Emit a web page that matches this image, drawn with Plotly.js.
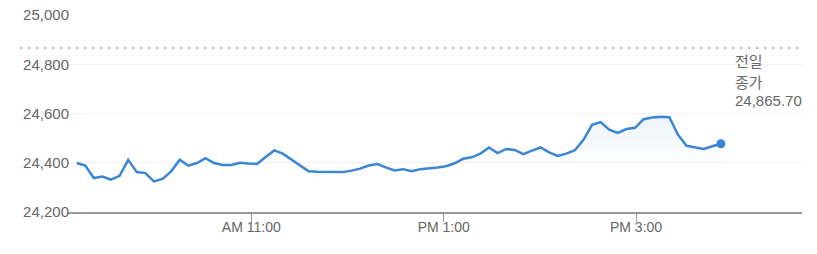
<!DOCTYPE html>
<html>
<head>
<meta charset="utf-8">
<script src="https://cdn.plot.ly/plotly-3.0.1.min.js"></script>
<style>html,body{margin:0;padding:0;background:#fff;}#chart{width:817px;height:254px;}</style>
</head>
<body>
<div id="chart"></div>
<script>
// Intraday index values (sample order)
const values = [
  24399, 24389, 24338, 24344, 24331, 24347, 24412, 24362, 24358, 24324,
  24334, 24365, 24412, 24388, 24399, 24419, 24399, 24391, 24391, 24400,
  24397, 24395, 24423, 24450, 24437, 24413, 24392, 24365, 24363, 24363,
  24361, 24362, 24368, 24376, 24389, 24395, 24381, 24369, 24374, 24366,
  24374, 24376, 24381, 24386, 24398, 24416, 24422, 24437, 24462, 24439,
  24456, 24452, 24435, 24449, 24462, 24442, 24428, 24437, 24451, 24493,
  24554, 24565, 24534, 24521, 24537, 24542, 24577, 24584, 24587, 24585,
  24514, 24469, 24462, 24456, 24467, 24477
];
const samples = values.map((v, i) => i);
const prevClose = 24865.70;
const prevCloseLabel = ['전일', '종가', '24,865.70'];
const xTickLabels = ['AM 11:00', 'PM 1:00', 'PM 3:00'];
const xTickPos = [20.33, 42.73, 65.12];
const yTickVals = [24200, 24400, 24600, 24800, 25000];
const yTickText = ['24,200', '24,400', '24,600', '24,800', '25,000'];

const blue = '#3a86d4';
const lastIdx = values.length - 1;

const traces = [
  {
    x: samples, y: values, type: 'scatter', mode: 'lines',
    line: {color: blue, width: 2.5, shape: 'linear'},
    fill: 'tozeroy',
    fillgradient: {type: 'vertical', start: 24600, stop: 24380,
      colorscale: [[0, 'rgba(58,134,212,0.10)'], [1, 'rgba(58,134,212,0)']]},
    hoverinfo: 'skip'
  },
  {
    x: [samples[lastIdx]], y: [values[lastIdx]], type: 'scatter', mode: 'markers',
    marker: {color: blue, size: 9}, hoverinfo: 'skip'
  }
];

const fontFam = 'Arial, "Liberation Sans", "Noto Sans CJK KR", sans-serif';
const annY = [24813, 24726, 24651];
const annotations = prevCloseLabel.map((t, i) => ({
  x: 76.4, y: annY[i], xref: 'x', yref: 'y', text: t, showarrow: false,
  xanchor: 'left', yanchor: 'middle',
  font: {family: fontFam, size: 15, color: '#666'}
}));

const layout = {
  width: 817, height: 254,
  margin: {l: 68, r: 15, t: 15, b: 42},
  paper_bgcolor: '#fff', plot_bgcolor: '#fff',
  showlegend: false,
  font: {family: fontFam, color: '#666'},
  xaxis: {
    range: [-1.01, 84.44], tickmode: 'array', tickvals: xTickPos, ticktext: xTickLabels,
    showgrid: false, zeroline: false, showline: true, linecolor: '#999', linewidth: 1.5,
    ticks: 'outside', ticklen: 8, tickcolor: '#999', tickwidth: 1,
    ticklabelstandoff: -6,
    tickfont: {family: fontFam, size: 14, color: '#666'}
  },
  yaxis: {
    range: [24200, 25000], tickmode: 'array', tickvals: yTickVals, ticktext: yTickText,
    showgrid: true, gridcolor: '#f2f2f2', gridwidth: 1, zeroline: false, showline: false,
    ticks: '', ticklabelstandoff: -2,
    tickfont: {family: fontFam, size: 15, color: '#666'}
  },
  shapes: [{
    type: 'line', xref: 'paper', yref: 'y', x0: -0.065, x1: 1, y0: prevClose, y1: prevClose,
    line: {color: '#aaa', width: 2, dash: '2px,6px'}
  }],
  annotations: annotations
};

Plotly.newPlot('chart', traces, layout, {staticPlot: true, displayModeBar: false});
</script>
</body>
</html>
